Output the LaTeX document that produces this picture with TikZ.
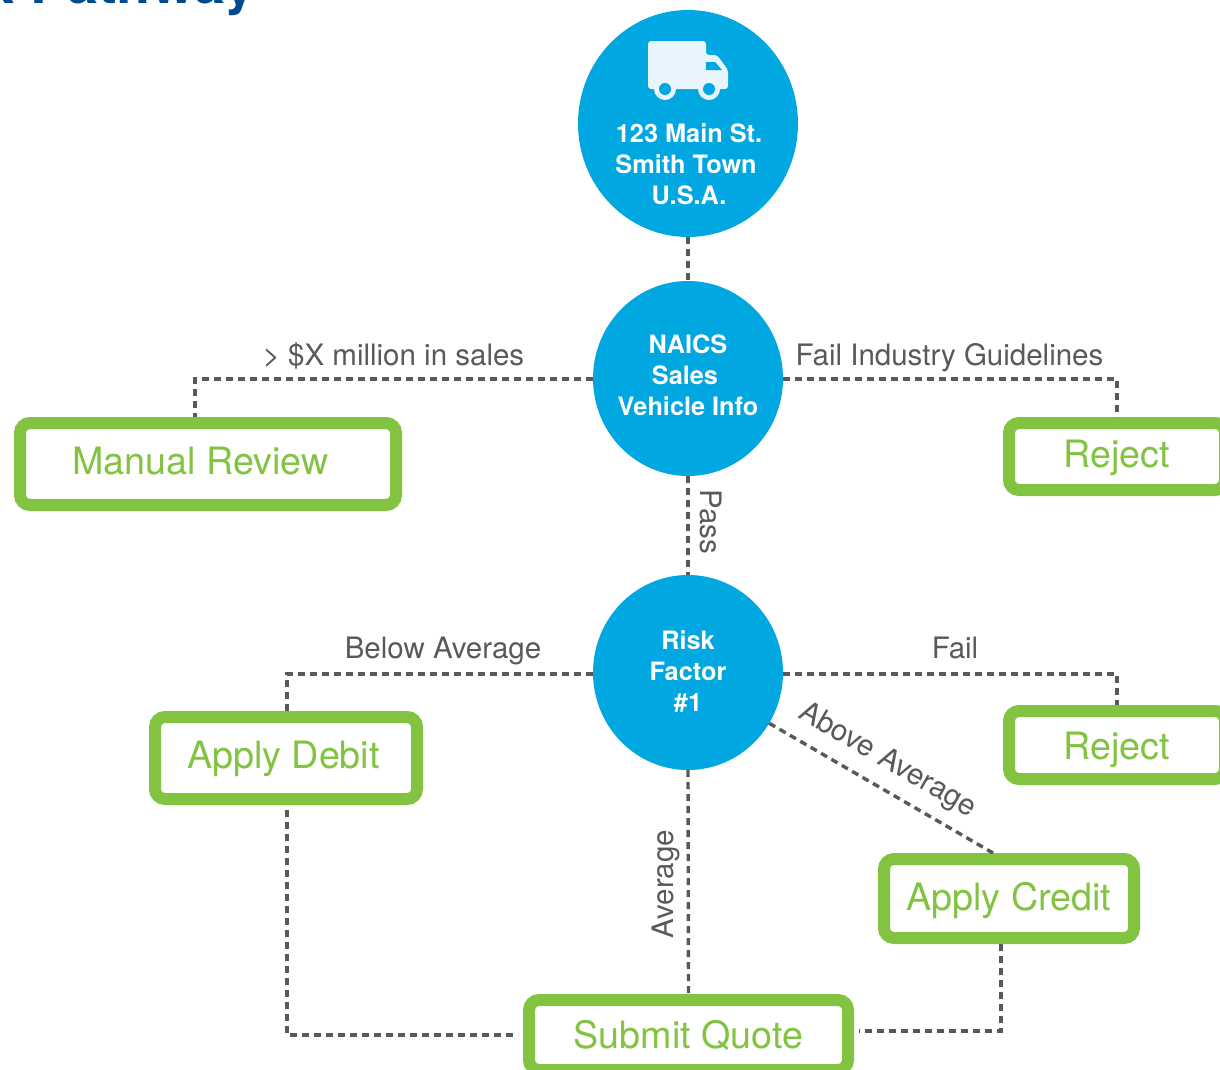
\documentclass[tikz,border=0pt]{standalone}
\usepackage{fontspec}
\setmainfont{TeX Gyre Heros}
\usetikzlibrary{shapes.geometric}
\definecolor{hubblue}{HTML}{00A7E1}
\definecolor{leafgreen}{HTML}{82C341}
\definecolor{linegray}{HTML}{58595B}
\definecolor{truckwhite}{HTML}{E8F5FC}
\definecolor{titleblue}{HTML}{004B8D}
\newcommand{\fsz}[1]{\fontsize{#1pt}{#1pt}\selectfont}
\tikzset{
  hub/.style={ellipse,fill=hubblue,inner sep=0pt,outer sep=0pt},
  hubtext/.style={text=white,align=center,font=\fontsize{25.3pt}{31pt}\selectfont\bfseries},
  leaf/.style={draw=leafgreen,fill=white,line width=12pt,rounded corners=10pt,
    inner sep=0pt,text=leafgreen,font=\fsz{37.7},text height=24pt,text depth=0pt},
  lab/.style={text=linegray,font=\fsz{29.5},inner sep=0pt},
  link/.style={draw=linegray,line width=3.4pt,dash pattern=on 7pt off 5pt}
}
\begin{document}
\begin{tikzpicture}[x=1pt,y=-1pt]
\useasboundingbox (0,0) rectangle (1220,1069);
\clip (0,0) rectangle (1220,1069);
% cut-off heading
\node[anchor=base east,inner sep=0pt,text=titleblue,font=\fsz{56}\bfseries] (title) at (256,3.5) {Risk Pathway};
% circles
\node[hub,minimum width=220pt,minimum height=227pt] (depot) at (688,123.5) {};
\node[hub,minimum width=190pt,minimum height=195pt] (naics) at (688,378.5) {};
\node[hub,minimum width=190pt,minimum height=195pt] (risk) at (688,672.5) {};
\node[hubtext] (depottext) at (689,164) {123 Main St.\\Smith Town\kern6pt\\U.S.A.};
\node[hubtext] (naicstext) at (688,375) {NAICS\\Sales\kern6pt\\Vehicle Info};
\node[hubtext] (risktext) at (688,671) {Risk\\Factor\\\#1};
% truck
\fill[truckwhite,rounded corners=3pt] (648,89) -- (648,41) -- (706,41) -- (706,55) -- (717,55) -- (728,70) -- (728,89) -- cycle;
\fill[hubblue] (706,62) -- (715,62) -- (722,70) -- (706,70) -- cycle;
\fill[truckwhite] (665,89) circle (11pt) (709,89) circle (11pt);
\fill[hubblue] (665,89) circle (6pt) (709,89) circle (6pt);
% green boxes
\node[leaf,minimum width=376pt,minimum height=82pt] (manual) at (208,464) {\raisebox{2pt}{Manual Review}\kern15pt};
\node[leaf,minimum width=216pt,minimum height=67pt] (rejecta) at (1117,456.5) {\raisebox{1.5pt}{Reject}};
\node[leaf,minimum width=216pt,minimum height=68pt] (rejectb) at (1117,745) {\raisebox{-2pt}{Reject}};
\node[leaf,minimum width=262pt,minimum height=82pt] (debit) at (286,758) {\raisebox{1.5pt}{Apply Debit}\kern5pt};
\node[leaf,minimum width=250pt,minimum height=79pt] (credit) at (1009,898.5) {\raisebox{0pt}{Apply Credit}};
\node[leaf,minimum width=319pt,minimum height=70pt] (submit) at (688.5,1035) {\raisebox{-1pt}{Submit Quote}};
% links
\draw[link] (depot.south) -- (naics.north);
\draw[link] ([yshift=-0.5pt]naics.west) -| ([xshift=-13pt]manual.north);
\draw[link] ([yshift=-0.5pt]naics.east) -| (rejecta.north);
\draw[link] (naics.south) -- (risk.north);
\draw[link] ([yshift=-1.5pt]risk.west) -| ([xshift=1pt]debit.north);
\draw[link] ([yshift=-1.5pt]risk.east) -| (rejectb.north);
\draw[link] (risk.south) -- (submit.north);
\draw[link] (risk.-32) -- ([xshift=-16pt]credit.north);
\draw[link] ([xshift=1pt,yshift=-5pt]debit.south) |- ([xshift=-5pt]submit.west);
\draw[link] ([xshift=-8pt]credit.south) |- ([xshift=5pt,yshift=4pt]submit.east);
% labels
\node[lab] (salesl) at (393.5,356) {> \$X million in sales};
\node[lab] (guidel) at (949.5,358) {Fail Industry Guidelines};
\node[lab,rotate=-90] (passl) at (711,522) {Pass};
\node[lab] (belowl) at (443,651) {Below Average};
\node[lab] (faill) at (955,648) {Fail};
\node[lab,rotate=-30] (abovel) at (887.5,761) {Above Average};
\node[lab,rotate=90] (averagel) at (666,884) {Average};
\end{tikzpicture}
\end{document}
